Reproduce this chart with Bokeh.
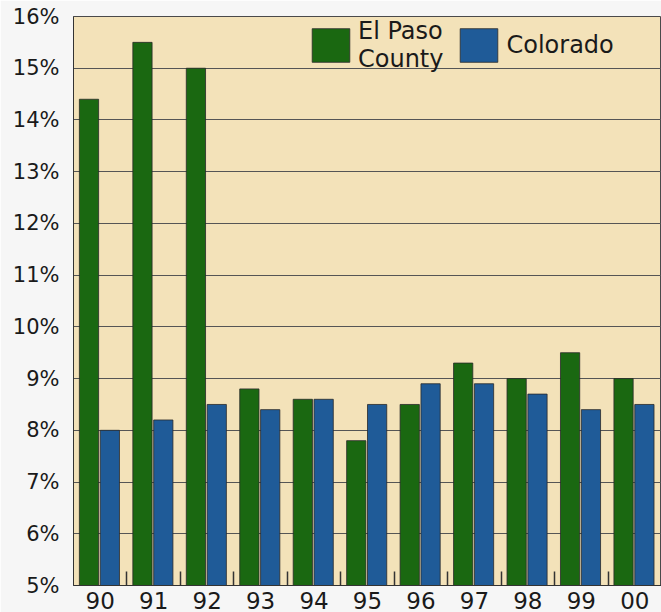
import numpy as np
from bokeh.plotting import figure
from bokeh.models import (ColumnDataSource, Range1d, FixedTicker, Legend,
                          LegendItem, PrintfTickFormatter)
from bokeh.embed import file_html
from bokeh.resources import INLINE

years = ["90", "91", "92", "93", "94", "95", "96", "97", "98", "99", "00"]
el_paso = [14.4, 15.5, 15.0, 8.8, 8.6, 7.8, 8.5, 9.3, 9.0, 9.5, 9.0]
colorado = [8.0, 8.2, 8.5, 8.4, 8.6, 8.5, 8.9, 8.9, 8.7, 8.4, 8.5]
y_ticks = list(range(5, 17))
series_names = ["El Paso\nCounty", "Colorado"]

GREEN = "#1a6811"
BLUE = "#1f5b98"
FONT = "DejaVu Sans"

idx = np.arange(len(years))
src = ColumnDataSource(dict(xg=idx + 0.29, xb=idx + 0.68,
                            ep=el_paso, co=colorado))

p = figure(width=661, height=612, output_backend="svg", toolbar_location=None,
           x_range=Range1d(0, 11), y_range=Range1d(5, 16),
           min_border_left=73, min_border_right=0, min_border_top=16,
           min_border_bottom=27)

p.background_fill_color = "#f3e2b9"
p.border_fill_color = "#f6f6f6"
p.outline_line_color = "#4a4a4a"
p.outline_line_width = 1

r1 = p.vbar(x="xg", top="ep", bottom=5, width=0.36, source=src,
            fill_color=GREEN, line_color="#2a2a2a", line_width=0.8)
r2 = p.vbar(x="xb", top="co", bottom=5, width=0.36, source=src,
            fill_color=BLUE, line_color="#2a2a2a", line_width=0.8)

# x axis
centers = [float(i) + 0.5 for i in idx]
p.xaxis.ticker = FixedTicker(ticks=centers, minor_ticks=[float(i) for i in idx[1:]])
p.xaxis.major_label_overrides = {c: y for c, y in zip(centers, years)}
p.xaxis.major_tick_line_color = None
p.xaxis.minor_tick_in = 14
p.xaxis.minor_tick_out = 0
p.xaxis.minor_tick_line_color = "#333333"
p.xaxis.minor_tick_line_width = 1.5
p.xaxis.axis_line_color = "#333333"
p.xaxis.major_label_text_font = FONT
p.xaxis.major_label_text_font_size = "23px"
p.xaxis.major_label_text_color = "#1a1a1a"
p.xaxis.major_label_standoff = 0
p.xgrid.grid_line_color = None

# y axis
p.yaxis.ticker = FixedTicker(ticks=y_ticks)
p.yaxis.formatter = PrintfTickFormatter(format="%d%%")
p.yaxis.major_tick_line_color = None
p.yaxis.minor_tick_line_color = None
p.yaxis.axis_line_color = "#333333"
p.yaxis.major_label_text_font = FONT
p.yaxis.major_label_text_font_size = "21px"
p.yaxis.major_label_text_color = "#1a1a1a"
p.yaxis.major_label_standoff = 8
p.ygrid.grid_line_color = "#555555"
p.ygrid.grid_line_width = 1

legend = Legend(items=[LegendItem(label=series_names[0], renderers=[r1]),
                       LegendItem(label=series_names[1], renderers=[r2])],
                orientation="horizontal", location=(234, 512),
                glyph_width=47, glyph_height=42, label_standoff=4, spacing=12,
                padding=0, margin=0, background_fill_alpha=0,
                border_line_alpha=0, label_text_font=FONT,
                label_text_font_size="24px", label_text_line_height=1.0,
                label_text_color="#1a1a1a")
p.add_layout(legend)

open("out.html", "w").write(file_html(p, INLINE))
